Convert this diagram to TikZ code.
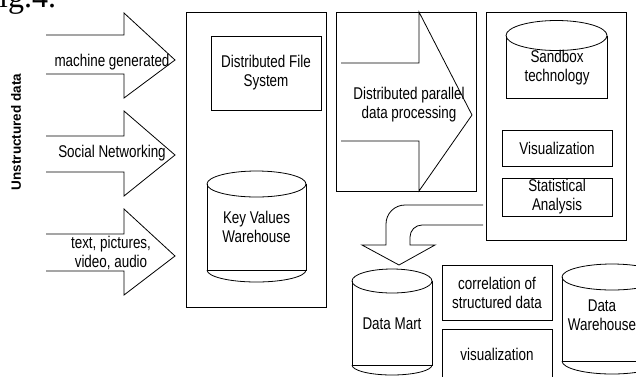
\documentclass[tikz,border=0pt]{standalone}
\usepackage{fontspec}
\setmainfont{Liberation Sans}
\newfontfamily\narrowfont{Liberation Sans}[FakeStretch=0.79]
\newfontfamily\figfont{Liberation Serif}
\begin{document}
\begin{tikzpicture}[x=1pt,y=-1pt,line width=0.8pt,
  lbl/.style={font=\narrowfont\fontsize{17}{19}\selectfont, align=center, inner sep=0pt},
  box/.style={draw, line width=0.8pt, inner sep=0pt},
  outl/.style={draw, line width=0.8pt, line join=miter}]
\clip (0,0) rectangle (636,376);
\fill[white] (0,0) rectangle (636,376);

% clipped caption
\node[font=\figfont\fontsize{32}{36}\selectfont, anchor=base west, inner sep=0pt] (fig) at (-19,7) {Fig.4.};

% vertical label
\node[font=\bfseries\fontsize{13.5}{16}\selectfont, rotate=90, inner sep=0pt] (unstr) at (16,132) {Unstructured data};

% input block arrows
\draw[outl] (46,35) -- (124,35) -- (124,13) -- (175,60) -- (124,98) -- (124,74) -- (46,74);
\draw[outl] (46,136) -- (124,136) -- (124,111) -- (175,155) -- (124,196) -- (124,172) -- (46,172);
\draw[outl] (46,234) -- (124,234) -- (124,209) -- (175,256) -- (124,295) -- (124,271) -- (46,271);
\node[lbl] (mg) at (112,62) {machine generated};
\node[lbl] (sn) at (112,153) {Social Networking};
\node[lbl] (tp) at (111,252.5) {text, pictures,\\video, audio};

% storage container
\node[box, minimum width=140, minimum height=295] (store) at (256,159.5) {};
\node[box, lbl, minimum width=110, minimum height=74] (dfs) at (266,73) {Distributed File\\System};
% key values cylinder
\draw[outl] (256.5,184) ellipse (49.5 and 13);
\draw[outl] (207,184) -- (207,270) -- (306,270) -- (306,184);
\draw[outl] (207,270) .. controls (207,276.6) and (229.2,282) .. (256.5,282)
  .. controls (283.8,282) and (306,276.6) .. (306,270);
\node[lbl] (kv) at (256.5,227) {Key Values\\Warehouse};

% processing box
\node[box, minimum width=140, minimum height=179] (proc) at (406,101.5) {};
\draw[outl] (341,63) -- (419,63) -- (419,12) -- (472,115) -- (419,191) -- (419,141) -- (341,141);
\node[lbl] (dpp) at (409,105) {Distributed parallel\\data processing};

% analysis box
\node[box, minimum width=140, minimum height=228] (ana) at (556,126) {};
\draw[outl] (556.5,35.5) ellipse (50.5 and 15);
\draw[outl] (506,35.5) -- (506,98) -- (607,98) -- (607,35.5);
\node[lbl] (sbx) at (557,67.5) {Sandbox\\technology};
\node[box, lbl, minimum width=110, minimum height=36] (vis1) at (557,148) {Visualization};
\node[box, lbl, minimum width=110, minimum height=38] (stat) at (557,197) {Statistical\\Analysis};

% curved block arrow to data mart
\draw[outl] (483,205) -- (405,205) .. controls (394.5,205) and (386,213.5) .. (386,224)
  -- (386,245) -- (362,245) -- (399,265) -- (435,245) -- (410,245) -- (410,237)
  .. controls (410,230.4) and (415.4,225) .. (422,225) -- (483,225);

% data mart cylinder
\draw[outl] (392,281) ellipse (40 and 12);
\draw[outl] (352,281) -- (352,365) -- (432,365) -- (432,281);
\draw[outl] (352,365) .. controls (352,370.5) and (369.9,375) .. (392,375)
  .. controls (414.1,375) and (432,370.5) .. (432,365);
\node[lbl] (dm) at (392,324) {Data Mart};

% structured data boxes
\node[box, lbl, minimum width=110, minimum height=55] (corr) at (497,292.5) {correlation of\\structured data};
\draw[outl] (442,400) -- (442,329) -- (552,329) -- (552,400);
\node[lbl] (vis2) at (497,354) {visualization};

% data warehouse cylinder
\draw[outl] (612,277) ellipse (50 and 13);
\draw[outl] (562,277) -- (562,361) -- (662,361) -- (662,277);
\draw[outl] (562,361) .. controls (562,368.2) and (584.4,374) .. (612,374)
  .. controls (639.6,374) and (662,368.2) .. (662,361);
\node[lbl] (dw) at (602,315) {Data\\Warehouse};
\end{tikzpicture}
\end{document}
